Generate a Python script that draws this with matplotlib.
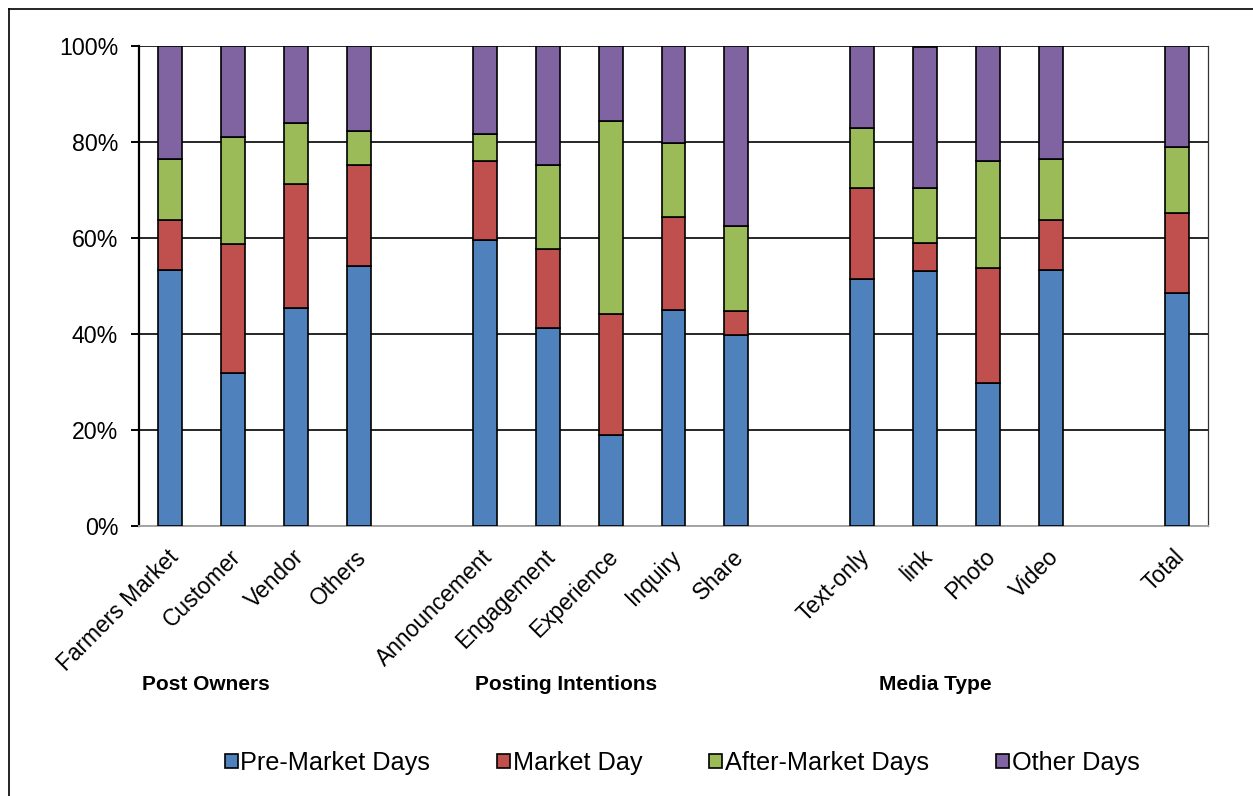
import matplotlib
matplotlib.use("Agg")
import matplotlib.pyplot as plt
import matplotlib.transforms as mtransforms
from matplotlib.lines import Line2D
from matplotlib.patches import Patch
from matplotlib.ticker import FuncFormatter
import numpy as np

plt.rcParams['font.family'] = ['Liberation Sans', 'DejaVu Sans']

categories = ["Farmers Market", "Customer", "Vendor", "Others",
              "Announcement", "Engagement", "Experience", "Inquiry", "Share",
              "Text-only", "link", "Photo", "Video",
              "Total"]
group_sizes = [4, 5, 4, 1]
group_names = ["Post Owners", "Posting Intentions", "Media Type"]

series_names = ["Pre-Market Days", "Market Day", "After-Market Days", "Other Days"]
pre_market = [53.3, 31.9, 45.5, 54.1, 59.6, 41.3, 18.9, 45.1, 39.7, 51.4, 53.1, 29.7, 53.3, 48.6]
market_day = [10.4, 26.8, 25.7, 21.1, 16.4, 16.5, 25.2, 19.3, 5.1, 19.1, 5.8, 24.0, 10.4, 16.7]
after_market = [12.7, 22.3, 12.7, 7.1, 5.6, 17.5, 40.3, 15.4, 17.7, 12.5, 11.6, 22.3, 12.7, 13.7]
other_days = [23.6, 19.0, 16.1, 17.7, 18.4, 24.7, 15.6, 20.2, 37.5, 17.0, 29.2, 24.0, 23.6, 21.0]
colors = ["#4F81BD", "#C0504D", "#9BBB59", "#8064A2"]

# positions: one empty slot between groups
positions = []
slot = 0
for gs in group_sizes:
    for _ in range(gs):
        positions.append(slot)
        slot += 1
    slot += 1
positions = np.array(positions, dtype=float)
n_slots = slot - 1

W, H = 1253, 796
fig = plt.figure(figsize=(W / 100, H / 100), dpi=100)
ax = fig.add_axes([139 / W, 1 - 526 / H, (1208 - 139) / W, (526 - 46) / H])

bottom = np.zeros(len(categories))
for vals, col, name in zip([pre_market, market_day, after_market, other_days], colors, series_names):
    vals = np.array(vals)
    ax.bar(positions, vals, bottom=bottom, width=0.38, color=col,
           edgecolor="black", linewidth=1.2, label=name, zorder=3)
    bottom += vals

ax.set_xlim(-0.5, n_slots - 0.5)
ax.set_ylim(0, 100)
ax.set_yticks(np.arange(0, 101, 20))
ax.yaxis.set_major_formatter(FuncFormatter(lambda v, p: f"{int(v)}%"))
ax.grid(axis="y", color="#262626", linewidth=1.4, zorder=0)
ax.set_axisbelow(True)

ax.set_xticks(positions)
ax.set_xticklabels(categories, rotation=45, ha="right", va="top",
                   rotation_mode="anchor", fontsize=16.4)
ax.tick_params(axis="x", length=0, pad=14)
offset = mtransforms.ScaledTranslation(-4 / 100, 0, fig.dpi_scale_trans)
for lbl in ax.get_xticklabels():
    lbl.set_transform(lbl.get_transform() + offset)
ax.tick_params(axis="y", length=6, width=1.4, labelsize=16.7, pad=9, direction="out")

ax.spines["top"].set_visible(False)
ax.spines["left"].set_linewidth(1.6)
ax.spines["left"].set_color("black")
ax.spines["right"].set_linewidth(0.9)
ax.spines["right"].set_color("#333333")
ax.spines["bottom"].set_color("#a6a6a6")
ax.spines["bottom"].set_linewidth(1.4)

# group labels
trans = mtransforms.blended_transform_factory(ax.transData, fig.transFigure)
group_label_x = [0.556, 6.286, 12.16]
for gx, gname in zip(group_label_x, group_names):
    ax.text(gx, 1 - 684 / H, gname, transform=trans, ha="center", va="center",
            fontsize=15, fontweight="bold")

handles = [Patch(facecolor=c, edgecolor="black", linewidth=1.2) for c in colors]
fig.legend(handles, series_names, loc="center", bbox_to_anchor=(682 / W, 1 - 763 / H),
           ncol=4, frameon=False, fontsize=18.2, handlelength=0.52, handleheight=0.52,
           handletextpad=0.1, columnspacing=2.65)

# outer frame (left and top visible)
fig.add_artist(Line2D([8.5 / W, 8.5 / W], [0, 1 - 8.5 / H], transform=fig.transFigure,
                      color="black", linewidth=1.2))
fig.add_artist(Line2D([8.5 / W, 1], [1 - 8.5 / H, 1 - 8.5 / H], transform=fig.transFigure,
                      color="black", linewidth=1.2))

fig.savefig("out.png", dpi=100)
